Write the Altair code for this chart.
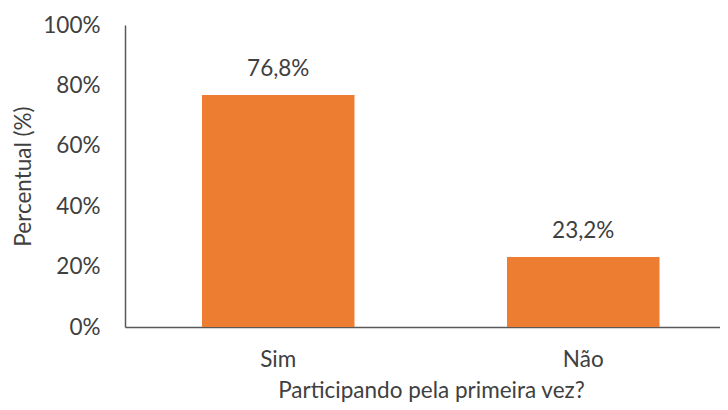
import altair as alt
import pandas as pd

categories = ["Sim", "Não"]
values = [76.8, 23.2]
labels = ["76,8%", "23,2%"]

df = pd.DataFrame({"cat": categories, "val": values, "lab": labels})

FONT = "Lato"
TXT = "#404040"
FS = 22.5

x = alt.X("cat:N", sort=categories,
          scale=alt.Scale(paddingInner=0.5, paddingOuter=0.2254, align=0.56),
          axis=alt.Axis(title="Participando pela primeira vez?", labelAngle=0,
                        ticks=False, labelPadding=21, titlePadding=9,
                        titleX=306,
                        domainColor="#595959", domainWidth=1.5))
y = alt.Y("val:Q", scale=alt.Scale(domain=[0, 100]),
          axis=alt.Axis(title="Percentual (%)", values=[0, 20, 40, 60, 80, 100],
                        labelExpr="datum.value + '%'", grid=False, ticks=False,
                        labelPadding=25, domainColor="#595959", domainWidth=1.5,
                        titleX=-102, titleY=151, titleBaseline="middle",
                        titleAngle=-90))

bars = alt.Chart(df).mark_bar(color="#ED7D31").encode(x=x, y=y)
text = alt.Chart(df).mark_text(baseline="bottom", dy=-14, font=FONT, fontSize=FS,
                               color=TXT).encode(x=x, y=y, text="lab:N")

chart = (bars + text).properties(
    width=595, height=302,
    padding={"left": 117, "top": 17, "right": 0, "bottom": 75},
    autosize=alt.AutoSizeParams(type="none"),
).configure_view(stroke=None).configure_axis(
    labelFont=FONT, titleFont=FONT, labelFontSize=FS, titleFontSize=FS,
    labelColor=TXT, titleColor=TXT, titleFontWeight="normal",
)

chart.save("out.html", embed_options={"renderer": "svg", "actions": False})
